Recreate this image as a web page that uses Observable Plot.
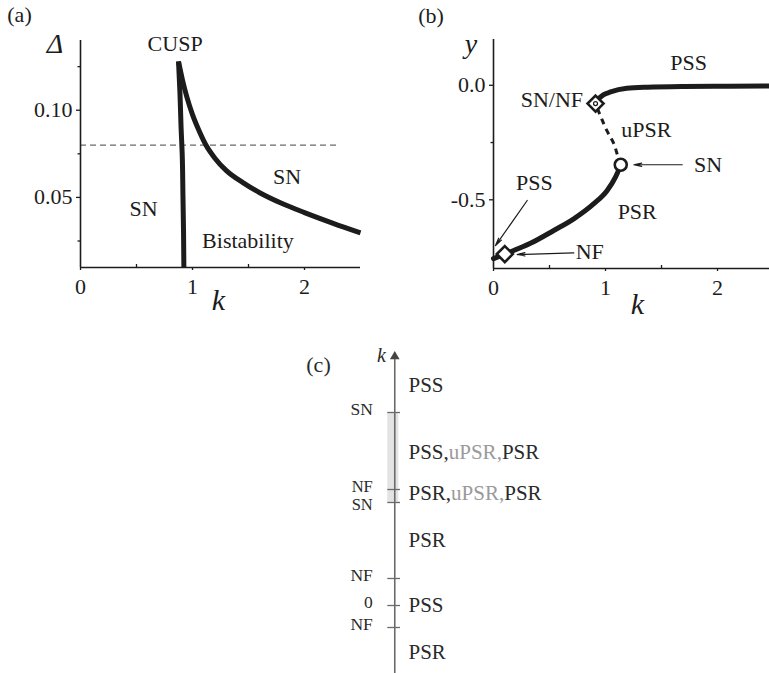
<!DOCTYPE html>
<html><head><meta charset="utf-8">
<script src="https://cdn.jsdelivr.net/npm/d3@7"></script>
<script src="https://cdn.jsdelivr.net/npm/@observablehq/plot@0.6"></script>
<style>
body{margin:0;background:#fff;}
#fig{position:relative;width:769px;height:673px;overflow:hidden;background:#fff;}
#fig > svg{position:absolute;overflow:visible;}
</style></head><body><div id="fig"></div>
<script>
// ---------- Panel (a): two-parameter bifurcation diagram ----------
const aBranch1K = [0.923, 0.920, 0.915, 0.908, 0.898, 0.888, 0.875];
const aBranch1D = [0.010, 0.030, 0.050, 0.075, 0.090, 0.110, 0.128];
const aBranch2K = [0.875, 0.91, 0.95, 1.00, 1.05, 1.116, 1.20, 1.30, 1.45, 1.60, 1.80, 2.00, 2.25, 2.50];
const aBranch2D = [0.128, 0.1175, 0.1075, 0.0975, 0.0895, 0.0805, 0.0725, 0.0655, 0.0585, 0.0527, 0.0465, 0.0413, 0.0353, 0.0297];
const aDashLevel = 0.08, aDashEnd = 2.29;
const aXDomain = [0, 2.5], aYDomain = [0.0098, 0.140];
const aXTicks = [0, 1, 2], aXMinor = [0.5, 1.5];
const aYTicks = [0.05, 0.10], aYMinor = [0.025, 0.075, 0.125];
const aLabelText = ["CUSP", "SN", "SN", "Bistability"];
const aLabelK = [0.845, 0.5625, 1.845, 1.495];
const aLabelD = [0.1383, 0.0431, 0.0617, 0.0249];

// ---------- Panel (b): one-parameter bifurcation diagram ----------
const bLowK = [0, 0.101, 0.33, 0.538, 0.717, 0.896, 1.015, 1.089, 1.128, 1.136];
const bLowY = [-0.757, -0.737, -0.690, -0.634, -0.583, -0.517, -0.459, -0.401, -0.357, -0.347];
const bUnstK = [1.136, 1.11, 1.074, 1.01, 0.96, 0.911];
const bUnstY = [-0.347, -0.31, -0.255, -0.196, -0.14, -0.080];
const bUpK = [0.911, 0.94, 0.98, 1.045, 1.19, 1.372, 1.7, 2.1, 2.5];
const bUpY = [-0.080, -0.058, -0.042, -0.029, -0.013, -0.008, -0.005, -0.004, -0.003];
const bDiamondK = [0.911, 0.101], bDiamondY = [-0.080, -0.737];
const bCircleK = [1.136], bCircleY = [-0.347];
const bArrowFromK = [1.685, 0.717, 0.301], bArrowFromY = [-0.347, -0.732, -0.503];
const bArrowToK = [1.253, 0.211, 0.018], bArrowToY = [-0.347, -0.739, -0.700];
const bLabelText = ["PSS", "SN/NF", "uPSR", "SN", "PSS", "PSR", "NF"];
const bLabelK = [1.741, 0.521, 1.365, 1.915, 0.364, 1.283, 0.859];
const bLabelY = [0.096, -0.066, -0.197, -0.347, -0.427, -0.554, -0.727];
const bXDomain = [0, 2.464], bYDomain = [-0.80, 0.20];
const bXTicks = [0, 1, 2], bXMinor = [0.5, 1.5];
const bYTicks = [-0.5, 0.0], bYMinor = [-0.25];

// ---------- Panel (c): schematic k axis ----------
const cTickNames = ["SN", "NF", "SN", "NF", "0", "NF"];
const cTickPos = [19.3, 11.6, 10.3, 2.7, 0, -2.2];
const cRegionText = ["PSS", "PSS,uPSR,PSR", "PSR,uPSR,PSR", "PSR", "PSS", "PSR"];
const cRegionPos = [22.0, 15.3, 11.2, 6.5, 0, -4.7];
const cBistable = [10.3, 19.3];
const cAxisRange = [-6.8, 25.2];
const cYDomain = [-6.8, 27.5];

// ---------- rendering ----------
const serif = "'Liberation Serif', 'Times New Roman', serif";
const ink = "#1c1c1c";
const fig = document.getElementById("fig");
const blank = () => "";

const plotA = Plot.plot({
  width: 380, height: 330, marginLeft: 80, marginRight: 20, marginTop: 40, marginBottom: 63,
  x: {domain: aXDomain}, y: {domain: aYDomain},
  style: {fontFamily: serif, fontSize: "22px", color: ink, background: "transparent"},
  marks: [
    Plot.ruleY([aDashLevel], {x1: aXDomain[0], x2: aDashEnd, stroke: "#6a6a6a", strokeWidth: 1.3, strokeDasharray: "6,4"}),
    Plot.ruleX([aXDomain[0]], {y1: aYDomain[0], y2: aYDomain[1], stroke: ink, strokeWidth: 1.6}),
    Plot.ruleY([aYDomain[0]], {x1: aXDomain[0], x2: aXDomain[1], stroke: ink, strokeWidth: 1.6}),
    Plot.axisX(aXTicks, {tickSize: 3, tickPadding: 8, label: null, fontSize: 22, strokeWidth: 1.3}),
    Plot.tickX(aXMinor, {x: d => d, insetTop: 224, stroke: ink, strokeWidth: 1.3}),
    Plot.axisY(aYTicks, {tickSize: 4, tickPadding: 4, label: null, fontSize: 22, tickFormat: d => d.toFixed(2), strokeWidth: 1.3}),
    Plot.axisY(aYMinor, {tickSize: 2.5, tickPadding: 0, label: null, tickFormat: blank, strokeWidth: 1.3}),
    Plot.line(d3.zip(aBranch1K, aBranch1D), {stroke: ink, strokeWidth: 5, curve: "monotone-y", strokeLinecap: "butt"}),
    Plot.line(d3.zip(aBranch2K, aBranch2D), {stroke: ink, strokeWidth: 5, curve: "monotone-x", strokeLinecap: "butt"}),
    Plot.text(aLabelText, {x: (d, i) => aLabelK[i], y: (d, i) => aLabelD[i], text: d => d, fontSize: 22, fill: ink}),
    Plot.text(["Δ"], {text: d => d, frameAnchor: "top-left", dx: -25.5, dy: 4, textAnchor: "middle", lineAnchor: "middle", fontStyle: "italic", fontSize: 28, fill: ink}),
    Plot.text(["k"], {text: d => d, frameAnchor: "bottom", dx: -2, dy: 33, textAnchor: "middle", lineAnchor: "middle", fontStyle: "italic", fontSize: 30, fill: ink}),
    Plot.text(["(a)"], {text: d => d, frameAnchor: "top-left", dx: -61, dy: -26, textAnchor: "middle", lineAnchor: "middle", fontSize: 22, fill: ink})
  ]
});
plotA.style.left = "0px"; plotA.style.top = "0px";
fig.appendChild(plotA);

const plotB = Plot.plot({
  width: 389, height: 330, marginLeft: 113, marginRight: 0, marginTop: 39, marginBottom: 62,
  x: {domain: bXDomain}, y: {domain: bYDomain},
  style: {fontFamily: serif, fontSize: "22px", color: ink, background: "transparent"},
  marks: [
    Plot.ruleX([bXDomain[0]], {y1: bYDomain[0], y2: bYDomain[1], stroke: ink, strokeWidth: 1.6}),
    Plot.ruleY([bYDomain[0]], {x1: bXDomain[0], x2: bXDomain[1], stroke: ink, strokeWidth: 1.6}),
    Plot.axisX(bXTicks, {tickSize: 3, tickPadding: 8, label: null, fontSize: 22, strokeWidth: 1.3}),
    Plot.tickX(bXMinor, {x: d => d, insetTop: 226, stroke: ink, strokeWidth: 1.3}),
    Plot.axisY(bYTicks, {tickSize: 4, tickPadding: 4, label: null, fontSize: 22, tickFormat: d => d.toFixed(1), strokeWidth: 1.3}),
    Plot.axisY(bYMinor, {tickSize: 2.5, tickPadding: 0, label: null, tickFormat: blank, strokeWidth: 1.3}),
    Plot.line(d3.zip(bLowK, bLowY), {stroke: ink, strokeWidth: 5, curve: "monotone-x"}),
    Plot.line(d3.zip(bUpK, bUpY), {stroke: ink, strokeWidth: 5, curve: "monotone-x", clip: true}),
    Plot.line(d3.zip(bUnstK, bUnstY), {stroke: ink, strokeWidth: 3, strokeDasharray: "6,5", curve: "monotone-y", strokeLinecap: "butt"}),
    Plot.arrow(bArrowFromK, {x1: d => d, y1: (d, i) => bArrowFromY[i], x2: (d, i) => bArrowToK[i], y2: (d, i) => bArrowToY[i], stroke: ink, strokeWidth: 1.2, headLength: 10, headAngle: 24}),
    Plot.dot(bDiamondK, {x: d => d, y: (d, i) => bDiamondY[i], symbol: "diamond2", r: 7.2, fill: "white", stroke: ink, strokeWidth: 2.6}),
    Plot.dot(bCircleK, {x: d => d, y: (d, i) => bCircleY[i], r: 6, fill: "white", stroke: ink, strokeWidth: 2.6}),
    Plot.dot(bDiamondK.slice(0, 1), {x: d => d, y: (d, i) => bDiamondY[i], r: 2, fill: "white", stroke: ink, strokeWidth: 1.2}),
    Plot.text(bLabelText, {x: (d, i) => bLabelK[i], y: (d, i) => bLabelY[i], text: d => d, fontSize: 22, fill: ink}),
    Plot.text(["y"], {text: d => d, frameAnchor: "top-left", dx: -22.5, dy: 5, textAnchor: "middle", lineAnchor: "middle", fontStyle: "italic", fontSize: 28, fill: ink}),
    Plot.text(["k"], {text: d => d, frameAnchor: "bottom-left", dx: 144, dy: 36, textAnchor: "middle", lineAnchor: "middle", fontStyle: "italic", fontSize: 30, fill: ink}),
    Plot.text(["(b)"], {text: d => d, frameAnchor: "top-left", dx: -62.5, dy: -24, textAnchor: "middle", lineAnchor: "middle", fontSize: 22, fill: ink})
  ]
});
plotB.style.left = "380px"; plotB.style.top = "0px";
fig.appendChild(plotB);

const cGray = "#6a6a6a", cText = "#2a2a2a";
const singleTickIdx = [0, 3, 4, 5], pairUpperIdx = [1], pairLowerIdx = [2];
const plotC = Plot.plot({
  width: 250, height: 343, marginLeft: 0, marginRight: 0, marginTop: 0, marginBottom: 0,
  x: {domain: [-1, 1.652], axis: null}, y: {domain: cYDomain, axis: null},
  style: {fontFamily: serif, fontSize: "21px", color: cText, background: "transparent"},
  marks: [
    Plot.rect([cBistable], {y1: d => d[0], y2: d => d[1], fill: "#e3e3e3", insetLeft: 87.3, insetRight: 151.7}),
    Plot.ruleX([0], {y1: cAxisRange[0], y2: cAxisRange[1] - 0.6, stroke: cGray, strokeWidth: 1.6}),
    Plot.dot([0], {x: d => d, y: cAxisRange[1] - 0.3, symbol: "triangle", r: 3.6, fill: "#444", stroke: "none"}),
    Plot.tickY(cTickPos, {y: d => d, stroke: cGray, strokeWidth: 1.3, insetLeft: 87.3, insetRight: 150}),
    Plot.text(singleTickIdx, {x: 0, y: i => cTickPos[i], text: i => cTickNames[i], dx: -22, dy: -3, textAnchor: "end", fontSize: 17.5, fill: cText}),
    Plot.text(pairUpperIdx, {x: 0, y: i => cTickPos[i], text: i => cTickNames[i], dx: -22, dy: -3, textAnchor: "end", fontSize: 16.5, fill: cText}),
    Plot.text(pairLowerIdx, {x: 0, y: i => cTickPos[i], text: i => cTickNames[i], dx: -22, dy: 2, textAnchor: "end", fontSize: 16.5, fill: cText}),
    Plot.text(cRegionText, {x: 0, y: (d, i) => cRegionPos[i], text: d => d, dx: 13.7, textAnchor: "start", fontSize: 21, fill: cText}),
    Plot.text(["k"], {text: d => d, frameAnchor: "top-left", dx: 81, dy: 25, textAnchor: "middle", lineAnchor: "middle", fontStyle: "italic", fontSize: 20, fill: cText}),
    Plot.text(["(c)"], {text: d => d, frameAnchor: "top-left", dx: 18, dy: 34, textAnchor: "middle", lineAnchor: "middle", fontSize: 22, fill: cText})
  ]
});
plotC.style.left = "300px"; plotC.style.top = "330px";
fig.appendChild(plotC);

// colour the unstable "uPSR" part of the mixed region labels
plotC.querySelectorAll("text").forEach(t => {
  const s = t.textContent;
  if (!s.includes("uPSR,")) return;
  const parts = s.split(",");
  while (t.firstChild) t.removeChild(t.firstChild);
  const segs = [[parts[0] + ",", cText], [parts[1] + ",", "#9a9a9a"], [parts[2], cText]];
  segs.forEach(([txt, col]) => {
    const ts = document.createElementNS("http://www.w3.org/2000/svg", "tspan");
    ts.textContent = txt; ts.setAttribute("fill", col);
    t.appendChild(ts);
  });
});
</script></body></html>
